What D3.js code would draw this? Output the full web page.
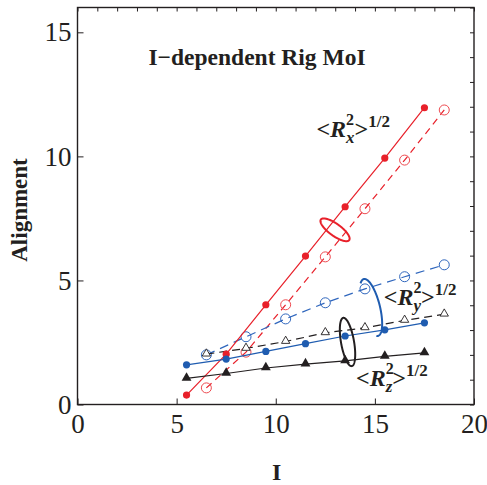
<!DOCTYPE html>
<html>
<head>
<meta charset="utf-8">
<script src="https://cdn.jsdelivr.net/npm/d3@7.9.0/dist/d3.min.js"></script>
<style>
  html, body { margin: 0; padding: 0; background: #fff; }
  svg { display: block; font-family: "Liberation Serif", "Times New Roman", serif; }
</style>
</head>
<body>
<div id="chart"></div>
<script>
// I values where each series was sampled
const filledI = [5.5, 7.5, 9.5, 11.5, 13.5, 15.5, 17.5];
const openI = [6.5, 8.5, 10.5, 12.5, 14.5, 16.5, 18.5];

// <Rx^2>^1/2, <Ry^2>^1/2, <Rz^2>^1/2 (filled = solid line, open = dashed line)
const rxFilled = [0.38, 2.03, 4.02, 5.98, 7.97, 9.93, 11.96];
const rxOpen = [0.67, 2.11, 4.02, 5.95, 7.89, 9.85, 11.87];
const ryFilled = [1.60, 1.83, 2.14, 2.45, 2.76, 3.01, 3.29];
const ryOpen = [2.00, 2.73, 3.45, 4.10, 4.66, 5.15, 5.63];
const rzFilled = [1.05, 1.25, 1.47, 1.63, 1.76, 1.94, 2.08];
const rzOpen = [2.03, 2.26, 2.54, 2.89, 3.09, 3.39, 3.64];

const xTicks = [0, 5, 10, 15, 20];
const yTicks = [0, 5, 10, 15];

const width = 487;
const height = 485;
const margin = { top: 7.5, right: 13, bottom: 80.5, left: 77.5 };
const ink = "#231f20";
const red = "#e8202a";
const blue = "#1f5cb0";

const x = d3.scaleLinear().domain([0, 20]).range([margin.left, width - margin.right]);
const y = d3.scaleLinear().domain([0, 16]).range([height - margin.bottom, margin.top]);

const svg = d3.select("#chart").append("svg")
  .attr("width", width)
  .attr("height", height);

// ticks on all four sides, pointing inward
function ticks(axis, scale, vals, size, labels) {
  const a = axis(scale).tickValues(vals).tickSize(-size).tickSizeOuter(0).tickPadding(labels ? 9 : 0);
  if (!labels) a.tickFormat("");
  return a;
}
const minor = d3.range(0, 21);
const minorY = d3.range(0, 17);

const bottom = svg.append("g").attr("transform", `translate(0,${y(0)})`);
bottom.call(ticks(d3.axisBottom, x, minor, 4, false));
bottom.call(ticks(d3.axisBottom, x, xTicks, 6, true));
const left = svg.append("g").attr("transform", `translate(${x(0)},0)`);
left.call(ticks(d3.axisLeft, y, minorY, 4, false));
left.call(ticks(d3.axisLeft, y, yTicks, 6, true).tickPadding(6));
svg.append("g").attr("transform", `translate(0,${y(16)})`).call(ticks(d3.axisTop, x, minor, 4, false));
svg.append("g").attr("transform", `translate(${x(20)},0)`).call(ticks(d3.axisRight, y, minorY, 4, false));

svg.selectAll(".domain").remove();
svg.selectAll(".tick line").attr("stroke", ink).attr("stroke-width", 1);
svg.selectAll(".tick text")
  .attr("fill", ink)
  .style("font-family", "'Liberation Serif', serif")
  .style("font-size", "27px");

svg.append("rect")
  .attr("x", x(0)).attr("y", y(16))
  .attr("width", x(20) - x(0)).attr("height", y(0) - y(16))
  .attr("fill", "none").attr("stroke", ink).attr("stroke-width", 1.4);

// series
const series = [
  { I: openI, v: rxOpen, color: red, dash: "7,5", marker: "openCircle" },
  { I: openI, v: ryOpen, color: "#2f66bd", dash: "9,6", marker: "openCircle" },
  { I: openI, v: rzOpen, color: ink, dash: "8,5", marker: "openTri" },
  { I: filledI, v: rxFilled, color: red, dash: null, marker: "dot" },
  { I: filledI, v: ryFilled, color: blue, dash: null, marker: "dot" },
  { I: filledI, v: rzFilled, color: ink, dash: null, marker: "tri" }
];

const line = d3.line().x(d => x(d[0])).y(d => y(d[1]));
const tri = d3.symbol().type(d3.symbolTriangle);

series.forEach(s => {
  const pts = s.I.map((d, i) => [d, s.v[i]]);
  svg.append("path")
    .attr("d", line(pts))
    .attr("fill", "none")
    .attr("stroke", s.color)
    .attr("stroke-width", 1.2)
    .attr("stroke-dasharray", s.dash);

  const g = svg.append("g");
  if (s.marker === "dot") {
    g.selectAll("circle").data(pts).join("circle")
      .attr("cx", d => x(d[0])).attr("cy", d => y(d[1]))
      .attr("r", 3.6).attr("fill", s.color);
  } else if (s.marker === "openCircle") {
    g.selectAll("circle").data(pts).join("circle")
      .attr("cx", d => x(d[0])).attr("cy", d => y(d[1]))
      .attr("r", 5).attr("fill", "none")
      .attr("stroke", s.color === red ? "#ee4a50" : s.color).attr("stroke-width", 1);
  } else if (s.marker === "tri") {
    g.selectAll("path").data(pts).join("path")
      .attr("transform", d => `translate(${x(d[0])},${y(d[1]) - 0.5})`)
      .attr("d", tri.size(42)).attr("fill", s.color);
  } else {
    g.selectAll("path").data(pts).join("path")
      .attr("transform", d => `translate(${x(d[0])},${y(d[1]) - 0.5})`)
      .attr("d", tri.size(30)).attr("fill", "#fff")
      .attr("stroke", s.color).attr("stroke-width", 0.9);
  }
});

// rings grouping solid and dashed series
function ring(cx, cy, rx, ry, rot, color, t0, t1) {
  const pts = d3.range(t0, t1 + 0.001, 2).map(t => {
    const a = t * Math.PI / 180;
    return [rx * Math.cos(a), ry * Math.sin(a)];
  });
  svg.append("path")
    .attr("transform", `translate(${x(cx)},${y(cy)}) rotate(${rot})`)
    .attr("d", d3.line()(pts))
    .attr("fill", "none")
    .attr("stroke", color)
    .attr("stroke-width", 2);
}
ring(12.99, 7.04, 17.5, 6, 36, red, 0, 360);
ring(14.8, 3.91, 9, 29.3, -14, blue, -118, 100);
ring(13.62, 2.52, 6.5, 24.5, -10, ink, 0, 360);

// labels
function label(lx, ly, sub) {
  const t = svg.append("text")
    .attr("x", x(lx)).attr("y", y(ly))
    .attr("fill", ink)
    .style("font-weight", "bold")
    .style("font-size", "24px");
  t.append("tspan").text("<");
  t.append("tspan").style("font-style", "italic").text("R");
  t.append("tspan").style("font-size", "16px").attr("dy", -12).text("2");
  t.append("tspan").style("font-size", "17px").style("font-style", "italic")
    .attr("dx", -8).attr("dy", 18).text(sub);
  t.append("tspan").attr("dy", -6).attr("dx", 0).text(">");
  t.append("tspan").style("font-size", "17px").attr("dy", -10).text("1/2");
}
label(12.05, 10.79, "x");
label(15.45, 4.01, "y");
label(14.05, 0.75, "z");

svg.append("text")
  .attr("x", 257).attr("y", 65)
  .attr("text-anchor", "middle")
  .attr("fill", ink)
  .style("font-weight", "bold")
  .style("font-size", "23.5px")
  .text("I\u2212dependent Rig MoI");

svg.append("text")
  .attr("transform", `translate(27,${(y(0) + y(16)) / 2 + 4}) rotate(-90)`)
  .attr("text-anchor", "middle")
  .attr("fill", ink)
  .style("font-weight", "bold")
  .style("font-size", "23px")
  .text("Alignment");

svg.append("text")
  .attr("x", (x(0) + x(20)) / 2 + 1).attr("y", 480)
  .attr("text-anchor", "middle")
  .attr("fill", ink)
  .style("font-weight", "bold")
  .style("font-size", "24px")
  .text("I");
</script>
</body>
</html>
